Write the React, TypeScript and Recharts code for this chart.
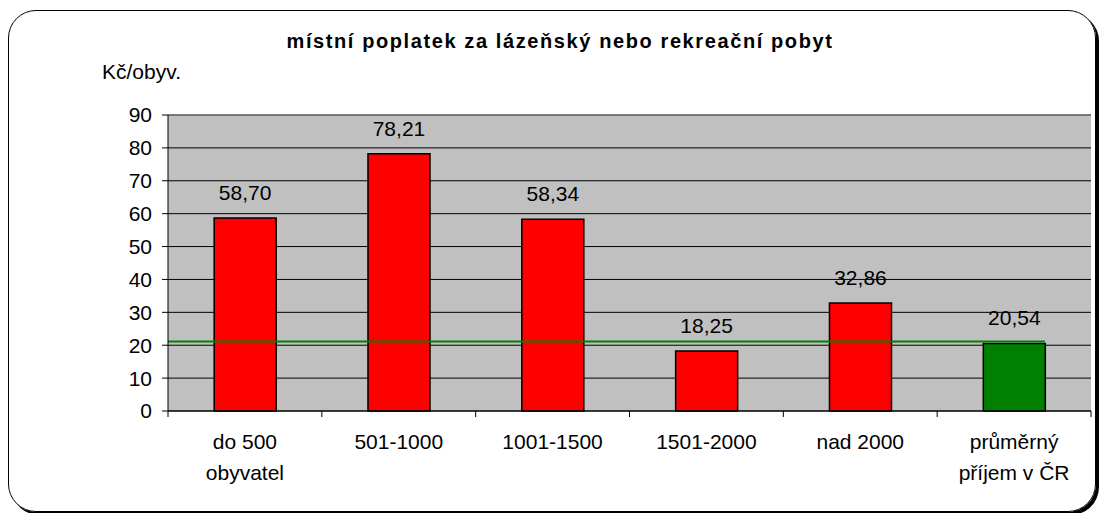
import { BarChart, Bar, Cell, CartesianGrid, XAxis, YAxis, LabelList, ReferenceLine } from 'recharts'

const categories = ['do 500\nobyvatel', '501-1000', '1001-1500', '1501-2000', 'nad 2000', 'průměrný\npříjem v ČR']
const values = [58.7, 78.21, 58.34, 18.25, 32.86, 20.54]
const barColors = ['#FF0000', '#FF0000', '#FF0000', '#FF0000', '#FF0000', '#008000']
const yTicks = [0, 10, 20, 30, 40, 50, 60, 70, 80, 90]
const avgValue = 20.54

const FONT = '"Liberation Sans", Arial, sans-serif'
const W = 1101
const H = 513
const PLOT_LEFT = 168
const PLOT_RIGHT = 1091
const STEP = (PLOT_RIGHT - PLOT_LEFT) / categories.length

const data = categories.map((name, i) => ({ name, value: values[i] }))

const fmt = (v: number) => v.toFixed(2).replace('.', ',')

function CategoryTick(props: any) {
  const { x, y, payload, index } = props
  const lines = String(payload.value).split('\n')
  const left = x - STEP / 2
  return (
    <g>
      <line x1={left} y1={y - 8} x2={left} y2={y - 2} stroke="#000" />
      {index === categories.length - 1 && (
        <line x1={x + STEP / 2} y1={y - 8} x2={x + STEP / 2} y2={y - 2} stroke="#000" />
      )}
      <text x={x} y={y + 30} textAnchor="middle" fontSize={21} fontFamily={FONT} fill="#000">
        {lines.map((l, i) => (
          <tspan key={i} x={x} dy={i === 0 ? 0 : 31}>{l}</tspan>
        ))}
      </text>
    </g>
  )
}

// average line runs from the plot's left edge to the right edge of the last bar
function AvgLine(props: any) {
  const { x1, x2, y1 } = props
  const end = x2 - STEP * 0.3
  return <line x1={x1} y1={y1 - 2} x2={end} y2={y1 - 2} stroke="#008000" strokeWidth={2} />
}

export default function App() {
  return (
    <div style={{ position: 'fixed', left: 0, top: 0, width: W, height: H, background: '#fff', overflow: 'hidden' }}>
      <div
        style={{
          position: 'absolute', left: 8, top: 10, width: 1088, height: 502,
          border: '1.5px solid #000', borderRadius: 28, boxSizing: 'border-box',
          boxShadow: '3px 3px 0 #000',
        }}
      />
      <div
        style={{
          position: 'absolute', left: 0, top: 30, width: 1120, textAlign: 'center',
          fontFamily: FONT, fontWeight: 'bold', fontSize: 20, letterSpacing: 1.6, color: '#000',
        }}
      >
        místní poplatek za lázeňský nebo rekreační pobyt
      </div>
      <div style={{ position: 'absolute', left: 102, top: 60, fontFamily: FONT, fontSize: 21, color: '#000' }}>
        Kč/obyv.
      </div>
      <div style={{ position: 'absolute', left: 0, top: 0 }}>
        <BarChart
          width={W}
          height={H}
          data={data}
          margin={{ top: 115, right: W - PLOT_RIGHT, bottom: 42, left: PLOT_LEFT - 70 }}
          barCategoryGap="30%"
        >
          <CartesianGrid vertical={false} stroke="#000" fill="#C0C0C0" />
          <XAxis
            dataKey="name"
            axisLine={{ stroke: '#000' }}
            tickLine={false}
            tick={<CategoryTick />}
            interval={0}
            height={60}
          />
          <YAxis
            domain={[0, 90]}
            ticks={yTicks}
            axisLine={{ stroke: '#000' }}
            tickLine={{ stroke: '#000' }}
            tickSize={6}
            tickMargin={10}
            width={70}
            tick={{ fill: '#000', fontSize: 21, fontFamily: FONT }}
          />
          <ReferenceLine y={90} stroke="#808080" />
          <Bar dataKey="value" isAnimationActive={false} stroke="#000" strokeWidth={1.5}>
            {data.map((_, i) => (
              <Cell key={i} fill={barColors[i]} />
            ))}
            <LabelList
              dataKey="value"
              position="top"
              offset={18}
              formatter={(v: any) => fmt(Number(v))}
              style={{ fill: '#000', fontSize: 21, fontFamily: FONT }}
            />
          </Bar>
          <ReferenceLine y={avgValue} shape={<AvgLine />} />
        </BarChart>
      </div>
    </div>
  )
}
